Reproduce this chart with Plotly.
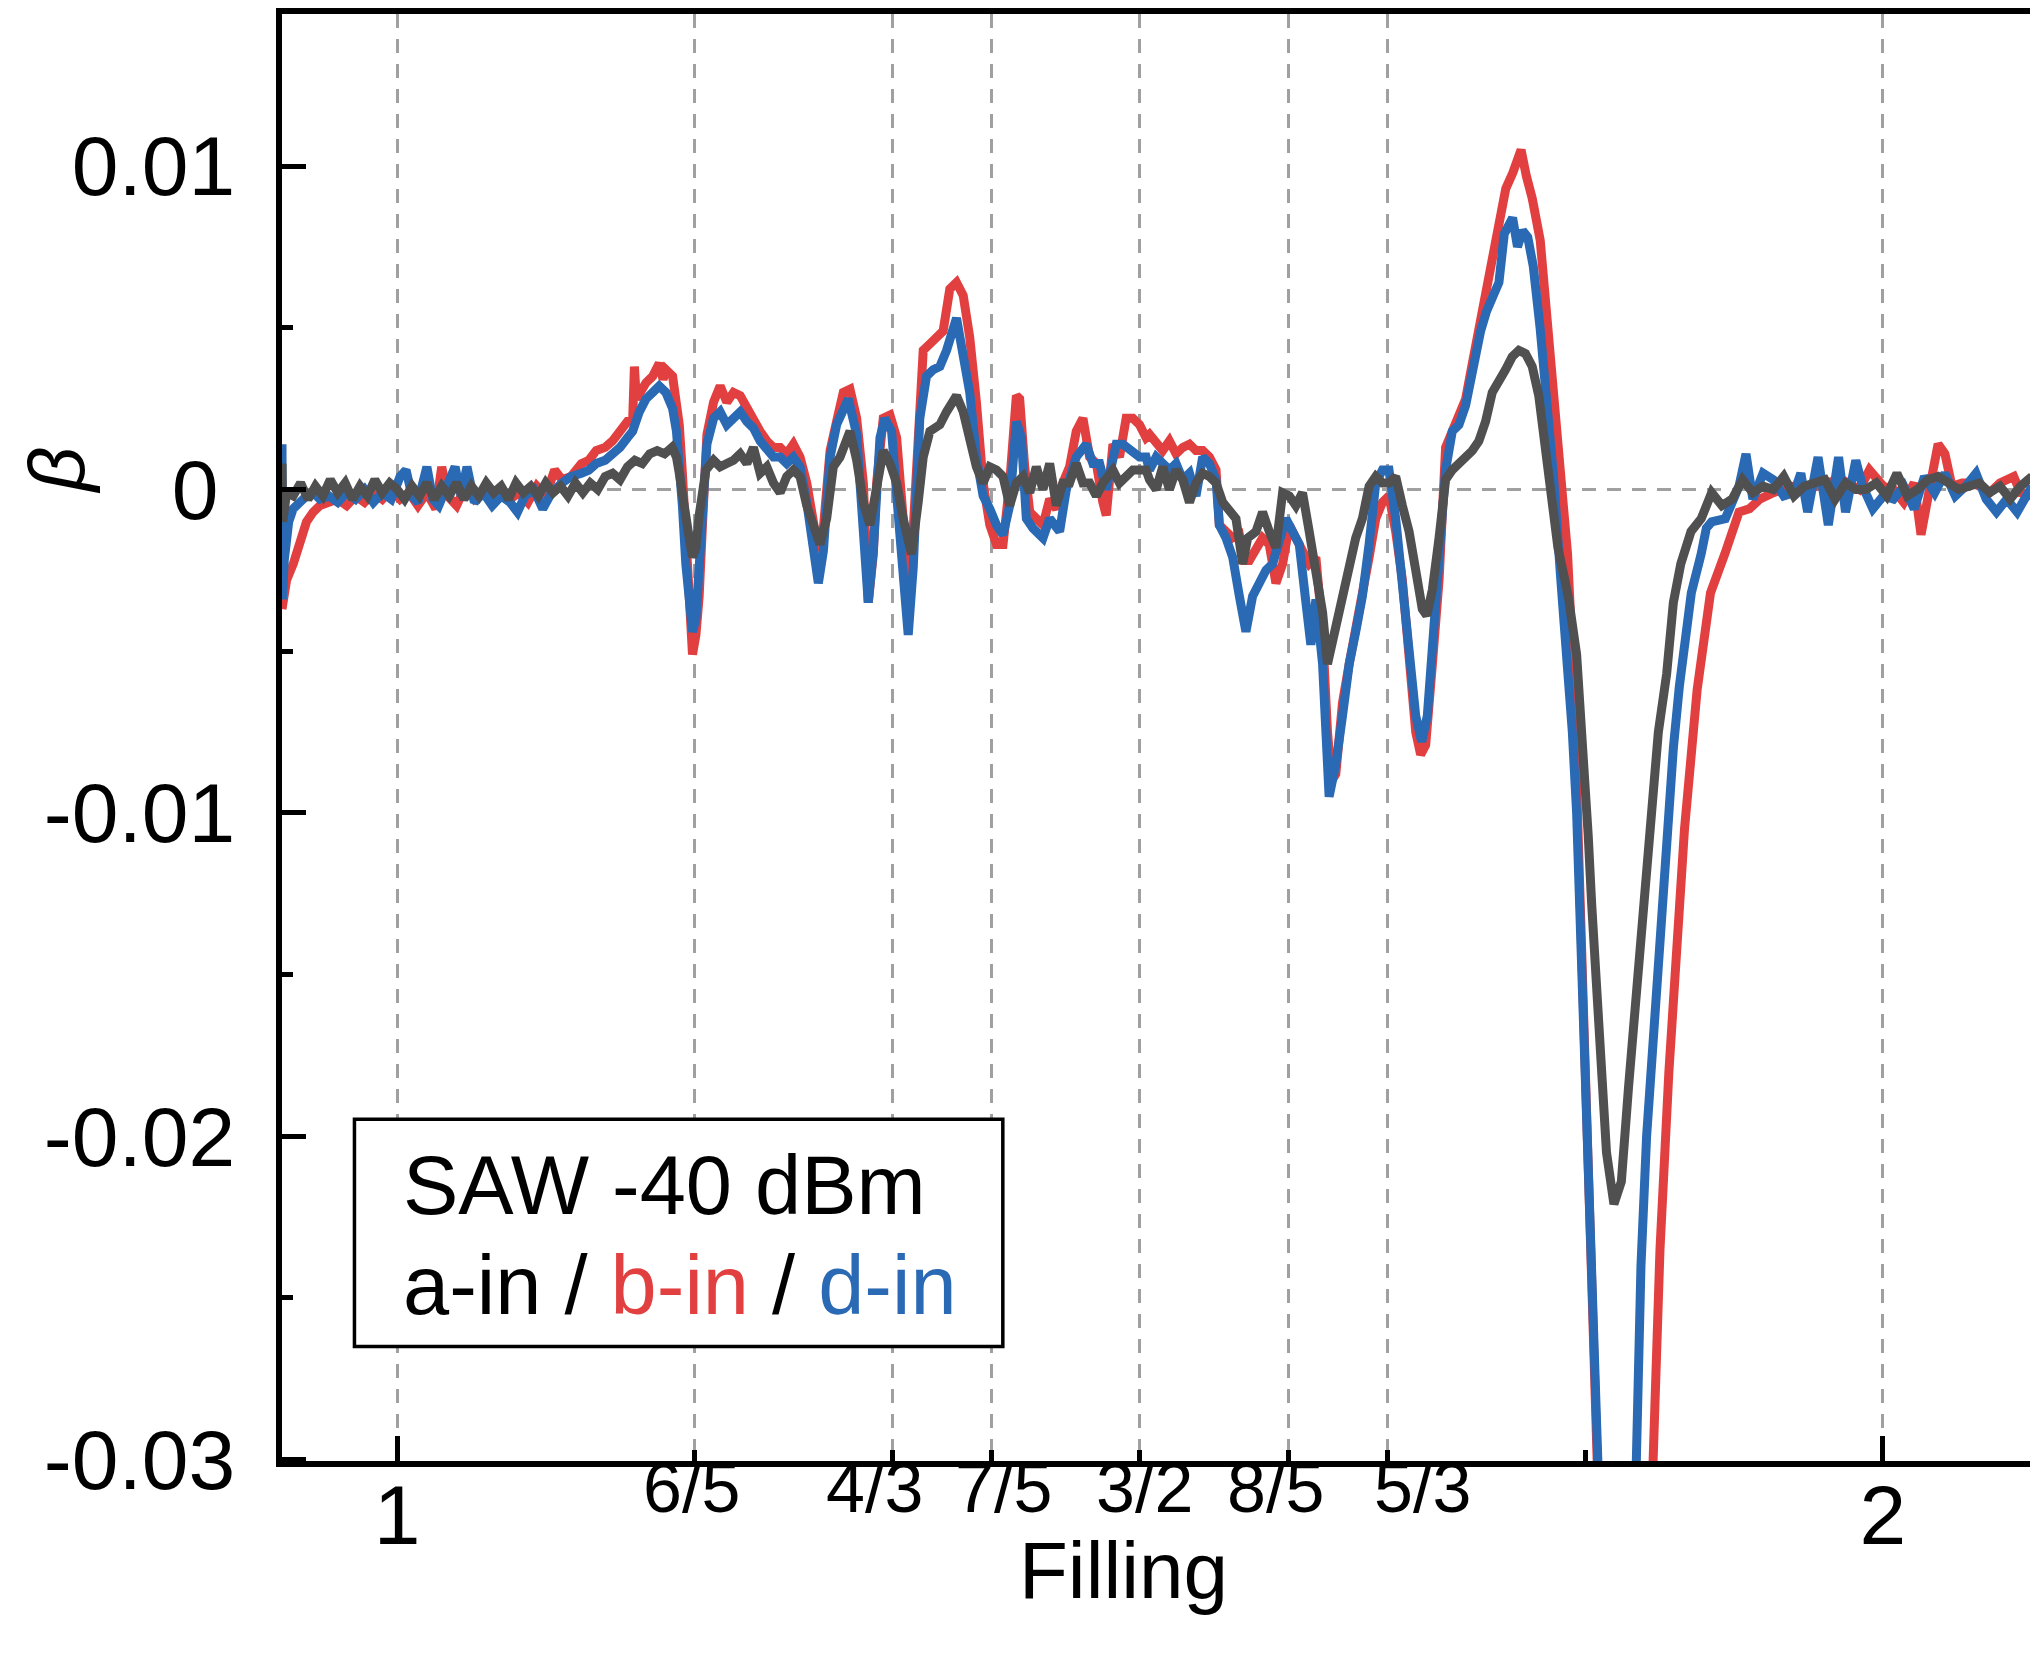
import plotly.graph_objects as go

# ---------------- data ----------------
# b-in (red)
filling_b = [0.9225, 0.9240, 0.9256, 0.9301, 0.9345, 0.9390, 0.9435, 0.9480, 0.954, 0.960, 0.966, 0.972, 0.978, 0.984,
             0.990, 0.996, 1.002, 1.008, 1.014, 1.020, 1.026, 1.030, 1.034, 1.040, 1.046, 1.052, 1.058, 1.064, 1.070,
             1.076, 1.082, 1.088, 1.094, 1.100, 1.106, 1.111, 1.117, 1.124, 1.129, 1.134, 1.140, 1.145, 1.150, 1.155,
             1.1585, 1.1597, 1.1610, 1.1650, 1.1675, 1.1720, 1.1764, 1.1790, 1.1809, 1.1854, 1.1880, 1.1899, 1.1920,
             1.1943, 1.1965, 1.1988, 1.2011, 1.2033, 1.2056, 1.2078, 1.2085, 1.2130, 1.2174, 1.2219, 1.2264, 1.2309,
             1.2354, 1.2398, 1.2443, 1.2488, 1.2533, 1.2578, 1.2622, 1.2667, 1.2712, 1.2757, 1.2802, 1.2835, 1.2869,
             1.2914, 1.2958, 1.3003, 1.3048, 1.3093, 1.3138, 1.3171, 1.3205, 1.3227, 1.3272, 1.3317, 1.3362, 1.3406,
             1.3440, 1.3496, 1.3541, 1.3586, 1.3630, 1.3675, 1.3720, 1.3765, 1.3810, 1.3854, 1.3899, 1.3944, 1.3989,
             1.4034, 1.4078, 1.4123, 1.4168, 1.4190, 1.4224, 1.4258, 1.4302, 1.4347, 1.4392, 1.4437, 1.4481, 1.4526,
             1.4571, 1.4616, 1.4661, 1.4706, 1.4750, 1.4773, 1.4818, 1.4862, 1.4907, 1.4952, 1.4997, 1.5041, 1.5064,
             1.5109, 1.5153, 1.5198, 1.5243, 1.5288, 1.5333, 1.5377, 1.5422, 1.5467, 1.5512, 1.5534, 1.5579, 1.5624,
             1.5669, 1.5702, 1.5736, 1.5781, 1.5825, 1.5870, 1.5915, 1.5960, 1.6005, 1.6049, 1.6094, 1.6139, 1.6184,
             1.6229, 1.6262, 1.6290, 1.6318, 1.6363, 1.6408, 1.6452, 1.6497, 1.6542, 1.6587, 1.6632, 1.6676, 1.6721,
             1.6766, 1.6811, 1.6856, 1.6889, 1.6923, 1.6968, 1.7013, 1.7057, 1.7102, 1.7147, 1.7192, 1.7237, 1.7281,
             1.7332, 1.7392, 1.7430, 1.7462, 1.7510, 1.7540, 1.7565, 1.7600, 1.7640, 1.7694, 1.7740, 1.7785, 1.7831,
             1.7878, 1.7915, 1.7945, 1.7978, 1.8012, 1.8045, 1.8078, 1.8110, 1.8280, 1.8430, 1.8454, 1.8500, 1.8560,
             1.8600, 1.8665, 1.8750, 1.8840, 1.8936, 1.8986, 1.9032, 1.9102, 1.9171, 1.9263, 1.9379, 1.9494, 1.9610,
             1.9726, 1.9841, 1.9910, 2.0003, 2.0072, 2.0141, 2.0211, 2.0257, 2.0326, 2.0372, 2.0418, 2.0465, 2.0534,
             2.0603, 2.0650, 2.0719, 2.0788, 2.0881, 2.0927, 2.1004]
beta_b = [-0.0037, -0.0033, -0.0028, -0.0023, -0.0016, -0.0010, -0.0007, -0.0005, -0.0004, -0.0003, -0.0005, -0.0002,
          -0.0004, -0.0001, -0.0003, 0.0000, -0.0003, -0.0001, -0.0005, -0.0001, -0.0006, 0.0007, -0.0002, -0.0005,
          0.0001, -0.0003, -0.0001, -0.0004, 0.0000, -0.0003, -0.0001, -0.0004, 0.0001, -0.0002, 0.0006, 0.0003,
          0.0004, 0.0008, 0.0009, 0.0012, 0.0013, 0.0015, 0.0018, 0.0021, 0.0021, 0.0038, 0.0028, 0.0031, 0.0033,
          0.0035, 0.0039, 0.0034, 0.0037, 0.0035, 0.0026, 0.0020, 0.0005, -0.0013, -0.0035, -0.0051, -0.0045,
          -0.0033, -0.0010, 0.0013, 0.0017, 0.0027, 0.0032, 0.0027, 0.0030, 0.0029, 0.0025, 0.0022, 0.0018, 0.0015,
          0.0013, 0.0013, 0.0011, 0.0014, 0.0010, 0.0002, -0.0009, -0.0019, -0.0012, 0.0012, 0.0021, 0.0030, 0.0031,
          0.0022, 0.0002, -0.0035, -0.0020, 0.0002, 0.0022, 0.0023, 0.0016, -0.0009, -0.0040, 0.0002, 0.0043,
          0.0045, 0.0047, 0.0049, 0.0062, 0.0064, 0.0060, 0.0047, 0.0027, 0.0002, -0.0011, -0.0017, -0.0017, 0.0002,
          0.0029, 0.0028, 0.0007, -0.0007, -0.0009, -0.0011, -0.0003, -0.0006, 0.0002, 0.0007, 0.0018, 0.0022,
          0.0010, 0.0008, -0.0004, -0.0008, 0.0014, 0.0010, 0.0022, 0.0022, 0.0020, 0.0016, 0.0017, 0.0014, 0.0012,
          0.0015, 0.0011, 0.0013, 0.0014, 0.0012, 0.0012, 0.0010, 0.0006, -0.0011, -0.0013, -0.0015, -0.0014,
          -0.0022, -0.0022, -0.0019, -0.0015, -0.0017, -0.0029, -0.0023, -0.0011, -0.0015, -0.0019, -0.0023,
          -0.0021, -0.0044, -0.0075, -0.0090, -0.0088, -0.0066, -0.0054, -0.0044, -0.0033, -0.0021, -0.0009,
          -0.0004, -0.0002, -0.0013, -0.0028, -0.0054, -0.0075, -0.0082, -0.0079, -0.0054, -0.0028, 0.0013, 0.0018,
          0.0022, 0.0028, 0.0039, 0.0049, 0.0062, 0.0074, 0.0085, 0.0093, 0.0098, 0.0101, 0.0105, 0.0097, 0.0090,
          0.0077, 0.0054, 0.0030, 0.0005, -0.0020, -0.0055, -0.0100, -0.0150, -0.0200, -0.0250, -0.0300, -0.0350,
          -0.0420, -0.0340, -0.0300, -0.0235, -0.0180, -0.0150, -0.0105, -0.0062, -0.0032, -0.0020, -0.0013,
          -0.0007, -0.0006, -0.0003, -0.0001, 0.0001, 0.0000, 0.0002, 0.0003, 0.0000, 0.0006, 0.0001, 0.0000,
          -0.0004, 0.0002, -0.0014, 0.0003, 0.0014, 0.0011, 0.0001, 0.0002, 0.0002, 0.0001, -0.0001, 0.0002, 0.0004,
          -0.0001, -0.0002]

# d-in (blue)
filling_d = [0.9225, 0.9228, 0.9240, 0.9270, 0.9300, 0.9345, 0.9390, 0.9435, 0.948, 0.954, 0.960, 0.966, 0.972, 0.978,
             0.984, 0.990, 0.996, 1.002, 1.006, 1.010, 1.014, 1.020, 1.024, 1.028, 1.034, 1.039, 1.043, 1.047, 1.052,
             1.058, 1.064, 1.070, 1.076, 1.081, 1.086, 1.092, 1.098, 1.104, 1.111, 1.117, 1.124, 1.129, 1.134, 1.140,
             1.145, 1.150, 1.155, 1.1585, 1.1630, 1.1675, 1.1720, 1.1764, 1.1809, 1.1854, 1.1880, 1.1899, 1.1920,
             1.1943, 1.1965, 1.1988, 1.2011, 1.2033, 1.2056, 1.2078, 1.2085, 1.2130, 1.2174, 1.2219, 1.2264, 1.2309,
             1.2354, 1.2398, 1.2443, 1.2488, 1.2533, 1.2578, 1.2622, 1.2667, 1.2712, 1.2757, 1.2802, 1.2835, 1.2869,
             1.2914, 1.2958, 1.3003, 1.3037, 1.3093, 1.3138, 1.3171, 1.3205, 1.3250, 1.3283, 1.3328, 1.3384, 1.3440,
             1.3474, 1.3518, 1.3563, 1.3608, 1.3653, 1.3698, 1.3765, 1.3810, 1.3854, 1.3899, 1.3944, 1.3989, 1.4034,
             1.4078, 1.4123, 1.4168, 1.4202, 1.4235, 1.4280, 1.4347, 1.4392, 1.4459, 1.4504, 1.4571, 1.4638, 1.4683,
             1.4728, 1.4773, 1.4840, 1.4885, 1.4952, 1.4997, 1.5041, 1.5064, 1.5109, 1.5153, 1.5198, 1.5243, 1.5288,
             1.5333, 1.5377, 1.5422, 1.5467, 1.5512, 1.5534, 1.5579, 1.5624, 1.5669, 1.5713, 1.5758, 1.5803, 1.5848,
             1.5893, 1.5937, 1.5982, 1.6027, 1.6072, 1.6117, 1.6150, 1.6184, 1.6229, 1.6273, 1.6318, 1.6363, 1.6408,
             1.6452, 1.6497, 1.6542, 1.6587, 1.6632, 1.6676, 1.6721, 1.6766, 1.6811, 1.6856, 1.6896, 1.6934, 1.6968,
             1.7013, 1.7057, 1.7102, 1.7147, 1.7192, 1.7237, 1.7293, 1.7332, 1.7392, 1.7416, 1.7452, 1.7480, 1.7508,
             1.7541, 1.7575, 1.7610, 1.7647, 1.7693, 1.7739, 1.7785, 1.7831, 1.7870, 1.7910, 1.7939, 1.7974, 1.8009,
             1.8040, 1.8075, 1.8110, 1.8200, 1.8310, 1.8341, 1.8372, 1.8410, 1.8460, 1.8503, 1.8548, 1.8590, 1.8630,
             1.8711, 1.8777, 1.8812, 1.8848, 1.8940, 1.9032, 1.9079, 1.9125, 1.9194, 1.9263, 1.9333, 1.9402, 1.9448,
             1.9494, 1.9564, 1.9633, 1.9702, 1.9749, 1.9818, 1.9864, 1.9933, 2.0003, 2.0072, 2.0141, 2.0211, 2.0280,
             2.0349, 2.0418, 2.0488, 2.0557, 2.0627, 2.0696, 2.0765, 2.0834, 2.0904, 2.1004]
beta_d = [0.0014, -0.0034, -0.0022, -0.0010, -0.0006, -0.0004, -0.0002, -0.0001, -0.0003, -0.0002, -0.0004, -0.0001,
          -0.0003, 0.0000, -0.0004, -0.0001, -0.0003, 0.0004, 0.0006, -0.0002, -0.0004, 0.0007, -0.0003, -0.0005,
          0.0002, 0.0007, -0.0002, 0.0007, -0.0004, -0.0001, -0.0005, -0.0002, -0.0004, -0.0007, -0.0002, 0.0000,
          -0.0006, -0.0001, 0.0002, 0.0004, 0.0005, 0.0006, 0.0008, 0.0009, 0.0011, 0.0013, 0.0016, 0.0018, 0.0024,
          0.0028, 0.0030, 0.0032, 0.0030, 0.0025, 0.0018, 0.0010, -0.0005, -0.0023, -0.0036, -0.0044, -0.0040,
          -0.0023, -0.0008, 0.0008, 0.0014, 0.0022, 0.0024, 0.0020, 0.0022, 0.0024, 0.0021, 0.0019, 0.0015, 0.0012,
          0.0010, 0.0010, 0.0008, 0.0010, 0.0007, -0.0004, -0.0019, -0.0029, -0.0019, 0.0010, 0.0020, 0.0025,
          0.0028, 0.0017, -0.0014, -0.0035, -0.0019, 0.0016, 0.0022, 0.0018, -0.0014, -0.0045, -0.0024, 0.0022,
          0.0035, 0.0037, 0.0038, 0.0043, 0.0053, 0.0043, 0.0030, 0.0010, -0.0002, -0.0006, -0.0011, -0.0014,
          -0.0005, 0.0021, 0.0016, -0.0009, -0.0012, -0.0015, -0.0009, -0.0013, 0.0000, 0.0010, 0.0014, 0.0008,
          0.0008, 0.0000, 0.0014, 0.0014, 0.0012, 0.0010, 0.0010, 0.0006, 0.0010, 0.0008, 0.0006, 0.0008, 0.0003,
          0.0005, -0.0002, 0.0010, 0.0008, 0.0003, -0.0011, -0.0015, -0.0021, -0.0033, -0.0044, -0.0033, -0.0029,
          -0.0025, -0.0023, -0.0017, -0.0009, -0.0013, -0.0017, -0.0035, -0.0048, -0.0034, -0.0054, -0.0095,
          -0.0085, -0.0070, -0.0054, -0.0044, -0.0033, -0.0017, 0.0002, 0.0006, 0.0006, -0.0009, -0.0029, -0.0054,
          -0.0070, -0.0078, -0.0070, -0.0049, -0.0023, 0.0006, 0.0018, 0.0020, 0.0026, 0.0037, 0.0049, 0.0055,
          0.0062, 0.0064, 0.0079, 0.0082, 0.0084, 0.0075, 0.0080, 0.0078, 0.0069, 0.0050, 0.0028, 0.0003, -0.0027,
          -0.0050, -0.0075, -0.0100, -0.0150, -0.0190, -0.0240, -0.0300, -0.0340, -0.0400, -0.0340, -0.0300,
          -0.0240, -0.0200, -0.0165, -0.0140, -0.0103, -0.0080, -0.0061, -0.0032, -0.0020, -0.0012, -0.0010,
          -0.0009, 0.0001, 0.0011, -0.0003, 0.0005, 0.0003, -0.0002, -0.0001, 0.0005, -0.0007, 0.0010, -0.0011,
          0.0010, -0.0007, 0.0009, 0.0001, -0.0006, -0.0002, -0.0003, 0.0001, -0.0006, 0.0004, -0.0001, 0.0005,
          -0.0002, 0.0001, 0.0005, -0.0003, -0.0007, -0.0003, -0.0007, 0.0001]

# a-in (gray)
filling_a = [0.9225, 0.9230, 0.9256, 0.930, 0.935, 0.940, 0.945, 0.950, 0.955, 0.960, 0.965, 0.970, 0.975, 0.980,
             0.985, 0.990, 0.995, 1.000, 1.005, 1.010, 1.015, 1.020, 1.025, 1.030, 1.035, 1.040, 1.045, 1.050, 1.055,
             1.060, 1.065, 1.070, 1.075, 1.080, 1.085, 1.090, 1.095, 1.100, 1.105, 1.110, 1.115, 1.120, 1.125, 1.130,
             1.135, 1.140, 1.145, 1.150, 1.155, 1.160, 1.165, 1.170, 1.175, 1.180, 1.185, 1.188, 1.1899, 1.1921,
             1.1943, 1.1966, 1.1988, 1.2011, 1.2033, 1.2056, 1.2078, 1.2130, 1.2174, 1.2219, 1.2264, 1.2309, 1.2354,
             1.2398, 1.2443, 1.2488, 1.2533, 1.2578, 1.2622, 1.2667, 1.2712, 1.2757, 1.2802, 1.2846, 1.2891, 1.2936,
             1.2981, 1.3048, 1.3093, 1.3138, 1.3182, 1.3227, 1.3272, 1.3317, 1.3362, 1.3406, 1.3462, 1.3507, 1.3541,
             1.3586, 1.3653, 1.3698, 1.3765, 1.3810, 1.3854, 1.3899, 1.3944, 1.3989, 1.4034, 1.4078, 1.4123, 1.4168,
             1.4213, 1.4258, 1.4302, 1.4347, 1.4392, 1.4437, 1.4481, 1.4526, 1.4571, 1.4616, 1.4661, 1.4706, 1.4750,
             1.4818, 1.4862, 1.4907, 1.4952, 1.5041, 1.5064, 1.5109, 1.5153, 1.5198, 1.5243, 1.5288, 1.5333, 1.5377,
             1.5422, 1.5467, 1.5512, 1.5557, 1.5601, 1.5646, 1.5691, 1.5725, 1.5781, 1.5825, 1.5870, 1.5915, 1.5960,
             1.6005, 1.6049, 1.6094, 1.6139, 1.6184, 1.6229, 1.6262, 1.6318, 1.6363, 1.6408, 1.6452, 1.6497, 1.6542,
             1.6587, 1.6632, 1.6676, 1.6721, 1.6766, 1.6811, 1.6856, 1.6900, 1.6930, 1.6968, 1.7013, 1.7057, 1.7102,
             1.7147, 1.7192, 1.7237, 1.7281, 1.7326, 1.7371, 1.7416, 1.7460, 1.7505, 1.7550, 1.7595, 1.7640, 1.7684,
             1.7729, 1.7785, 1.7813, 1.7860, 1.7886, 1.7939, 1.7965, 1.7991, 1.8017, 1.8040, 1.8091, 1.8140, 1.8190,
             1.8240, 1.8288, 1.8341, 1.8389, 1.8437, 1.8489, 1.8545, 1.8590, 1.8640, 1.8709, 1.8778, 1.8848, 1.8917,
             1.8986, 1.9056, 1.9125, 1.9194, 1.9263, 1.9333, 1.9402, 1.9471, 1.9541, 1.9610, 1.9679, 1.9749, 1.9818,
             1.9887, 1.9956, 2.0026, 2.0095, 2.0164, 2.0234, 2.0303, 2.0372, 2.0441, 2.0511, 2.0580, 2.0650, 2.0719,
             2.0788, 2.0857, 2.0927, 2.1004]
beta_a = [0.0008, -0.0010, -0.0001, -0.0002, 0.0002, -0.0003, 0.0001, -0.0002, 0.0003, -0.0001, 0.0002, -0.0003,
          0.0001, -0.0002, 0.0003, -0.0001, 0.0002, 0.0000, -0.0003, 0.0001, -0.0002, 0.0002, -0.0003, 0.0001,
          -0.0002, 0.0002, -0.0003, 0.0001, -0.0002, 0.0002, -0.0001, 0.0001, -0.0003, 0.0002, -0.0001, 0.0001,
          -0.0002, 0.0002, -0.0001, 0.0001, -0.0002, 0.0002, -0.0001, 0.0002, 0.0000, 0.0004, 0.0005, 0.0003,
          0.0007, 0.0009, 0.0008, 0.0011, 0.0012, 0.0011, 0.0013, 0.0010, 0.0005, -0.0003, -0.0006, -0.0015,
          -0.0021, -0.0018, -0.0008, 0.0000, 0.0006, 0.0009, 0.0007, 0.0008, 0.0009, 0.0011, 0.0008, 0.0013, 0.0005,
          0.0007, 0.0002, -0.0001, 0.0004, 0.0006, 0.0004, -0.0005, -0.0012, -0.0017, -0.0009, 0.0007, 0.0010,
          0.0018, 0.0009, -0.0004, -0.0011, 0.0002, 0.0012, 0.0008, 0.0002, -0.0009, -0.0020, -0.0004, 0.0010,
          0.0018, 0.0020, 0.0024, 0.0029, 0.0024, 0.0015, 0.0007, 0.0002, 0.0007, 0.0006, 0.0004, -0.0005, 0.0002,
          0.0004, -0.0001, 0.0007, 0.0000, 0.0008, -0.0005, 0.0002, 0.0002, 0.0008, 0.0002, 0.0002, -0.0002, 0.0002,
          0.0006, 0.0002, 0.0004, 0.0006, 0.0006, 0.0003, 0.0000, 0.0007, 0.0000, 0.0006, 0.0003, -0.0004, 0.0002,
          0.0005, 0.0004, 0.0002, -0.0004, -0.0007, -0.0009, -0.0023, -0.0015, -0.0013, -0.0007, -0.0013, -0.0018,
          -0.0001, -0.0002, -0.0005, -0.0001, -0.0013, -0.0025, -0.0038, -0.0054, -0.0042, -0.0034, -0.0023,
          -0.0015, -0.0009, 0.0001, 0.0004, 0.0002, 0.0002, 0.0004, -0.0005, -0.0013, -0.0025, -0.0037, -0.0039,
          -0.0031, -0.0015, 0.0003, 0.0006, 0.0008, 0.0010, 0.0012, 0.0015, 0.0021, 0.0030, 0.0033, 0.0037, 0.0041,
          0.0043, 0.0042, 0.0038, 0.0029, 0.0012, -0.0012, -0.0018, -0.0028, -0.0034, -0.0051, -0.0068, -0.0087,
          -0.0107, -0.0128, -0.0170, -0.0205, -0.0221, -0.0214, -0.0185, -0.0155, -0.0128, -0.0100, -0.0075,
          -0.0057, -0.0035, -0.0023, -0.0013, -0.0009, -0.0001, -0.0005, -0.0003, 0.0003, -0.0001, 0.0001, 0.0000,
          0.0004, -0.0002, 0.0001, 0.0002, 0.0003, -0.0003, 0.0002, 0.0000, 0.0000, 0.0002, -0.0002, 0.0005,
          -0.0002, 0.0000, 0.0003, 0.0004, 0.0002, 0.0000, 0.0001, 0.0002, -0.0001, 0.0001, -0.0003, 0.0001, 0.0004]

# axis ticks
major_x_vals = [1, 2]
major_x_text = ["1", "2"]
frac_x_vals = [6 / 5, 4 / 3, 7 / 5, 3 / 2, 8 / 5, 5 / 3]
frac_x_text = ["6/5", "4/3", "7/5", "3/2", "8/5", "5/3"]
extra_minor_x = [9 / 5]
y_vals = [-0.03, -0.02, -0.01, 0, 0.01]
y_text = ["-0.03", "-0.02", "-0.01", "0\u2009", "0.01"]
y_minor = [-0.025, -0.015, -0.005, 0.005]
zero_line = [0]

X_RANGE = [0.9225, 2.1004]
Y_RANGE = [-0.03004, 0.0147]

# ---------------- style ----------------
RED = "#E24040"
BLUE = "#2A69B3"
GRAY = "#505050"
GRID = "#A0A0A0"
FONT = "Liberation Sans, Arial, Helvetica, sans-serif"
DASH = "14px,11px"
frac_label_shift_px = [-3, -18, 12, 5, -13, 35]   # labels spread apart as in the original

fig = go.Figure()
for fx, fy, col in [(filling_b, beta_b, RED), (filling_d, beta_d, BLUE), (filling_a, beta_a, GRAY)]:
    fig.add_trace(go.Scatter(x=fx, y=fy, mode="lines", line=dict(color=col, width=9),
                             showlegend=False, hoverinfo="skip"))
# empty traces so the overlay axes exist
fig.add_trace(go.Scatter(x=[], y=[], xaxis="x2", yaxis="y", showlegend=False))
fig.add_trace(go.Scatter(x=[], y=[], xaxis="x", yaxis="y2", showlegend=False))

fig.update_layout(
    width=2030, height=1652,
    margin=dict(l=274, r=4, t=0, b=199, pad=0),
    paper_bgcolor="white", plot_bgcolor="white",
    font=dict(family=FONT, color="black"),
    xaxis=dict(range=X_RANGE, tickmode="array", tickvals=major_x_vals, ticktext=major_x_text,
               ticks="inside", ticklen=25, tickwidth=5, tickcolor="black", tickangle=0,
               tickfont=dict(size=84, family=FONT), ticklabelstandoff=-24,
               showgrid=True, gridcolor=GRID, gridwidth=3, griddash=DASH,
               zeroline=False, showline=True, linewidth=6, linecolor="black", mirror=True,
               minor=dict(tickmode="array", tickvals=extra_minor_x, ticks="inside", ticklen=11,
                          tickwidth=5, tickcolor="black", showgrid=False)),
    xaxis2=dict(range=X_RANGE, overlaying="x", anchor="y", side="bottom", tickmode="array",
                tickvals=frac_x_vals, showticklabels=False, ticks="inside", ticklen=11, tickwidth=5,
                tickcolor="black", showgrid=True, gridcolor=GRID, gridwidth=3, griddash=DASH,
                zeroline=False, showline=False),
    yaxis=dict(range=Y_RANGE, tickmode="array", tickvals=y_vals, ticktext=y_text,
               ticks="inside", ticklen=24, tickwidth=5, tickcolor="black",
               tickfont=dict(size=84, family=FONT), ticklabelstandoff=24,
               showgrid=False, zeroline=False, showline=True, linewidth=6, linecolor="black", mirror=True,
               minor=dict(tickmode="array", tickvals=y_minor, ticks="inside", ticklen=11, tickwidth=5,
                          tickcolor="black", showgrid=False)),
    yaxis2=dict(range=Y_RANGE, overlaying="y", anchor="x", side="left", tickmode="array",
                tickvals=zero_line, showticklabels=False, ticks="",
                showgrid=True, gridcolor=GRID, gridwidth=3, griddash=DASH,
                zeroline=False, showline=False),
)

# fraction labels of the filling axis (placed at their tick values)
for val, txt, sh in zip(frac_x_vals, frac_x_text, frac_label_shift_px):
    fig.add_annotation(xref="x", yref="paper", x=val, y=-0.0186, xshift=sh, xanchor="center",
                       yanchor="middle", text=txt, showarrow=False,
                       font=dict(size=70, family=FONT, color="black"))

# legend-like box
fig.add_shape(type="rect", xref="paper", yref="paper", x0=0.0414, x1=0.4119, y0=0.0791, y1=0.2361,
              line=dict(color="black", width=3.5), fillcolor="white", layer="above")
fig.add_annotation(xref="paper", yref="paper", x=0.0681, y=0.1906, xanchor="left", yanchor="middle",
                   text="SAW -40 dBm", showarrow=False, font=dict(size=83, family=FONT, color="black"))
fig.add_annotation(xref="paper", yref="paper", x=0.0681, y=0.1211, xanchor="left", yanchor="middle",
                   text=f"a-in / <span style='color:{RED}'>b-in</span> / <span style='color:{BLUE}'>d-in</span>",
                   showarrow=False, font=dict(size=83, family=FONT, color="black"))
# axis titles
fig.add_annotation(xref="paper", yref="paper", x=-0.1285, y=0.6848, xanchor="center", yanchor="middle",
                   text="<i>β</i>", textangle=-90, showarrow=False, font=dict(size=78, family=FONT, color="black"))
fig.add_annotation(xref="paper", yref="paper", x=0.4809, y=-0.0757, xanchor="center", yanchor="middle",
                   text="Filling", showarrow=False, font=dict(size=80, family=FONT, color="black"))

fig.write_html("out.html")
